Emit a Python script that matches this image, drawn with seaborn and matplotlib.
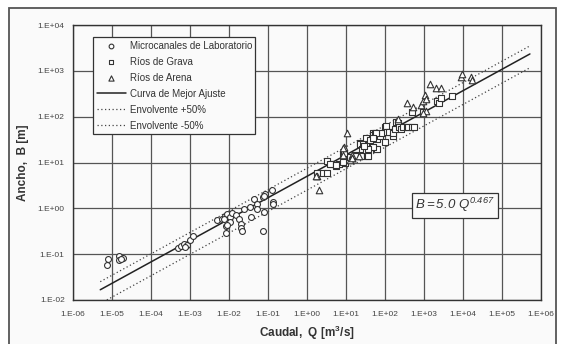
import numpy as np
import pandas as pd
import matplotlib
matplotlib.use("Agg")
import matplotlib.pyplot as plt
from matplotlib.ticker import FixedLocator, FuncFormatter, NullLocator
from matplotlib.patches import Rectangle
import seaborn as sns

sns.set_style("white")
plt.rcParams['font.family'] = ['Liberation Sans', 'DejaVu Sans']
plt.rcParams['mathtext.fontset'] = 'custom'
plt.rcParams['mathtext.it'] = 'Liberation Sans:italic'
plt.rcParams['mathtext.rm'] = 'Liberation Sans:italic'
plt.rcParams['mathtext.bf'] = 'Liberation Sans:bold'

# ---- data ----
circ_Q = [7.9e-6, 7.4e-6, 1.5e-5, 1.5e-5, 1.9e-5, 1.7e-5,
          4.9e-4, 5.9e-4, 7.1e-4, 8.3e-4, 7.5e-4, 1.0e-3, 1.2e-3,
          4.8e-3, 6.6e-3, 7.9e-3, 9.1e-3, 1.07e-2, 1.2e-2, 1.07e-2, 8.4e-3, 8.4e-3, 9.0e-3, 7.5e-3, 1.5e-2,
          1.8e-2, 2.0e-2, 2.0e-2, 2.2e-2, 2.4e-2, 3.5e-2, 3.7e-2, 4.4e-2, 5.1e-2, 5.3e-2, 7.3e-2, 7.9e-2,
          8.5e-2, 7.6e-2, 0.126, 0.137, 0.137, 0.081]
circ_B = [0.078, 0.058, 0.091, 0.074, 0.081, 0.077,
          0.135, 0.15, 0.165, 0.158, 0.145, 0.20, 0.245,
          0.55, 0.60, 0.68, 0.75, 0.65, 0.81, 0.51, 0.41, 0.29, 0.43, 0.58, 0.71,
          0.60, 0.45, 0.37, 0.32, 0.95, 1.08, 0.65, 1.6, 1.22, 0.95, 1.8, 0.83,
          2.1, 0.32, 2.5, 1.4, 1.22, 1.85]

grav_Q = [1.8, 2.5, 3.3, 3.3, 4.1, 5.5, 6.8, 9.4, 8.5, 3.9, 5.7, 8.5, 9.1, 13, 18, 18, 24, 35,
          23, 23, 34, 33, 50, 50, 25, 28, 32, 36, 36, 46, 41, 54, 59, 61, 64, 49, 37, 29,
          75, 83, 60, 48, 100, 108, 110, 130, 160, 100, 164, 180, 195, 210, 235, 250, 295,
          370, 400, 480, 540, 480, 950, 2150, 2450, 2700, 5100]
grav_B = [5.8, 6.0, 6.0, 11, 9.3, 8.4, 9.3, 9.8, 15, 9.5, 8.8, 10.3, 16, 13, 14.5, 13.8, 13.8, 13.8,
          26, 25, 29.5, 34, 43, 40, 20, 25, 19, 24, 14, 22, 31, 43, 19.5, 32, 20, 22, 20, 23,
          37, 43, 43, 34, 60, 62, 47, 47, 37, 28, 45, 55, 77, 71, 60, 55, 60,
          60, 60, 60, 60, 128, 128, 215, 200, 250, 282]

aren_Q = [1.8, 1.7, 2.0, 10.5, 8.9, 8.5, 8.5, 14, 14, 12.3, 21, 14, 220, 370, 510, 830, 960,
          1070, 1130, 1130, 960, 1400, 2050, 2750, 8700, 9400, 16000, 16700]
aren_B = [5.2, 5.0, 2.5, 44, 22, 21, 14.5, 14.5, 12.3, 11.2, 14, 12.6, 87, 200, 160, 180, 215,
          295, 240, 135, 123, 515, 420, 420, 720, 850, 720, 630]

fit_a = 5.0
fit_b = 0.467
fit_Q_range = [5e-6, 5.2e5]
env_factors = [1.5, 0.5]

labels = ["Microcanales de Laboratorio", "Ríos de Grava", "Ríos de Arena",
          "Curva de Mejor Ajuste", "Envolvente +50%", "Envolvente -50%"]
x_ticks = [10.0 ** k for k in range(-6, 7)]
y_ticks = [10.0 ** k for k in range(-2, 5)]

# ---- figure ----
fig = plt.figure(figsize=(5.61, 3.44), dpi=100, facecolor='white')
fig.patches.append(Rectangle((9 / 561, -0.05), (556 - 9) / 561, 1 - 8 / 344 + 0.05,
                             transform=fig.transFigure, facecolor='#fafafa',
                             edgecolor='#555555', linewidth=1.3, zorder=-10))
ax = fig.add_axes([73 / 561, 1 - 300 / 344, (541 - 73) / 561, (300 - 25) / 344])
ax.set_zorder(5)
ax.set_facecolor('#fafafa')
ax.set_xscale('log')
ax.set_yscale('log')

edge = '#333333'
sns.scatterplot(x=circ_Q, y=circ_B, marker='o', s=18, color='white', edgecolor=edge,
                linewidth=0.8, ax=ax, label=labels[0], zorder=4)
sns.scatterplot(x=grav_Q, y=grav_B, marker='s', s=19, color='white', edgecolor=edge,
                linewidth=0.8, ax=ax, label=labels[1], zorder=4)
sns.scatterplot(x=aren_Q, y=aren_B, marker='^', s=22, color='white', edgecolor=edge,
                linewidth=0.8, ax=ax, label=labels[2], zorder=4)

fq = np.array(fit_Q_range)
fit_df = pd.DataFrame({'Q': fq, 'B': fit_a * fq ** fit_b})
sns.lineplot(data=fit_df, x='Q', y='B', color='#222222', linewidth=1.1, ax=ax,
             label=labels[3], zorder=3)
for f, lab in zip(env_factors, labels[4:]):
    env_df = pd.DataFrame({'Q': fq, 'B': f * fit_a * fq ** fit_b})
    sns.lineplot(data=env_df, x='Q', y='B', color='#444444', linewidth=0.9,
                 linestyle=(0, (1, 2)), ax=ax, label=lab, zorder=3)

ax.set_xlim(1e-6, 1e6)
ax.set_ylim(1e-2, 1e4)
ax.xaxis.set_major_locator(FixedLocator(x_ticks))
ax.yaxis.set_major_locator(FixedLocator(y_ticks))
ax.xaxis.set_minor_locator(NullLocator())
ax.yaxis.set_minor_locator(NullLocator())
fmt = FuncFormatter(lambda v, p: "1.E{:+03d}".format(int(round(np.log10(v)))))
ax.xaxis.set_major_formatter(fmt)
ax.yaxis.set_major_formatter(fmt)
ax.tick_params(axis='both', which='major', labelsize=6, colors='#333333', length=3,
               width=0.8, direction='out', pad=3, labelcolor='#444444')
ax.tick_params(axis='x', pad=5)
ax.grid(True, which='major', color='#555555', linewidth=0.9)
ax.set_axisbelow(True)
for s in ax.spines.values():
    s.set_color('#333333')
    s.set_linewidth(1.0)
    s.set_visible(True)

ax.set_xlabel("Caudal,  Q [m$^{\\mathbf{3}}$/s]", fontsize=8.5, fontweight='bold',
              color='#333333', labelpad=4)
ax.set_ylabel("Ancho,  B [m]", fontsize=8.5, fontweight='bold', color='#333333', labelpad=6)

ax.text(0.816, 0.345, r'$B = 5.0\ Q^{0.467}$', transform=ax.transAxes, fontsize=9.5,
        ha='center', va='center', color='#333333', zorder=6,
        bbox=dict(boxstyle='square,pad=0.25', facecolor='#fafafa', edgecolor='#333333',
                  linewidth=0.9))

handles, labs = ax.get_legend_handles_labels()
order = [labs.index(l) for l in labels]
leg = ax.legend([handles[i] for i in order], [labs[i] for i in order],
                loc='upper left', bbox_to_anchor=(0.043, 0.956), borderaxespad=0,
                fontsize=7, frameon=True, fancybox=False, framealpha=1,
                edgecolor='#333333', facecolor='#fafafa', handlelength=3.0,
                handletextpad=0.4, labelspacing=0.62, borderpad=0.35, markerscale=0.8)
leg.get_frame().set_linewidth(0.9)
for t in leg.get_texts():
    t.set_color('#333333')
leg.set_zorder(7)

fig.savefig("out.png", dpi=100, facecolor=fig.get_facecolor())
